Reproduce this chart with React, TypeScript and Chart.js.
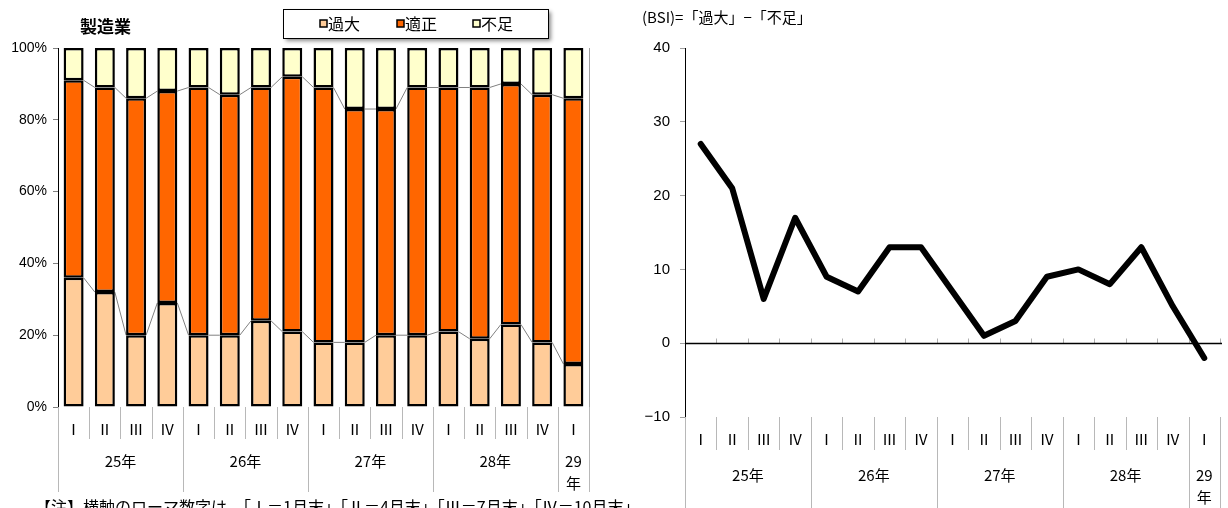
import React, { useEffect, useRef } from "react";
import { Chart, registerables } from "chart.js";
Chart.register(...registerables);

// ---- data ----
const quarterLabels = ["Ⅰ", "Ⅱ", "Ⅲ", "Ⅳ", "Ⅰ", "Ⅱ", "Ⅲ", "Ⅳ", "Ⅰ", "Ⅱ", "Ⅲ", "Ⅳ", "Ⅰ", "Ⅱ", "Ⅲ", "Ⅳ", "Ⅰ"];
const yearLabels = ["25年", "26年", "27年", "28年", "29年"];
const yearSpans = [4, 4, 4, 4, 1];
const kadai = [36, 32, 20, 29, 20, 20, 24, 21, 18, 18, 20, 20, 21, 19, 23, 18, 12];
const tekisei = [55, 57, 66, 59, 69, 67, 65, 71, 71, 65, 63, 69, 68, 70, 67, 69, 74];
const fusoku = [9, 11, 14, 12, 11, 13, 11, 8, 11, 17, 17, 11, 11, 11, 10, 13, 14];
const bsi = [27, 21, 6, 17, 9, 7, 13, 13, 7, 1, 3, 9, 10, 8, 13, 5, -2];
const seriesNames = ["過大", "適正", "不足"];
const seriesColors = ["#FFCC99", "#FF6600", "#FFFFCC"];
const leftTitle = "製造業";
const rightTitle = "(BSI)=「過大」−「不足」";
const noteText = "【注】横軸のローマ数字は、「Ⅰ＝1月末」「Ⅱ＝4月末」「Ⅲ＝7月末」「Ⅳ＝10月末」";

const CJK = '"Noto Sans CJK JP", sans-serif';
const NUM = '"Liberation Sans", Arial, sans-serif';

function drawCategoryAxis(chart: any, opts: { top: number; quarterY: number; shortEnd: number; longEnd: number; yearY: number; yearY2: number }) {
  const ctx = chart.ctx as CanvasRenderingContext2D;
  const xs = chart.scales.x;
  const n = quarterLabels.length;
  const catW = (xs.right - xs.left) / n;
  ctx.save();
  ctx.strokeStyle = "#b8b8b8";
  ctx.lineWidth = 1;
  const bounds: number[] = [0];
  let acc = 0;
  yearSpans.forEach((s) => { acc += s; bounds.push(acc); });
  for (let i = 0; i <= n; i++) {
    const x = Math.round(xs.left + i * catW) + 0.5;
    const isLong = bounds.indexOf(i) >= 0;
    ctx.beginPath();
    ctx.moveTo(x, opts.top);
    ctx.lineTo(x, isLong ? opts.longEnd : opts.shortEnd);
    ctx.stroke();
  }
  ctx.fillStyle = "#000";
  ctx.textAlign = "center";
  ctx.textBaseline = "middle";
  ctx.font = `15px ${CJK}`;
  for (let i = 0; i < n; i++) {
    const cx = xs.getPixelForValue(i);
    ctx.fillText(quarterLabels[i], cx, opts.quarterY);
  }
  let start = 0;
  yearSpans.forEach((s, k) => {
    const cx = xs.left + (start + s / 2) * catW;
    const label = yearLabels[k];
    if (s === 1) {
      ctx.fillText(label.slice(0, 2), cx, opts.yearY);
      ctx.fillText(label.slice(2), cx, opts.yearY2);
    } else {
      ctx.fillText(label, cx, opts.yearY);
    }
    start += s;
  });
  ctx.restore();
}

const leftPlugin = {
  id: "leftDecor",
  beforeDatasetsDraw(chart: any) {
    const ctx = chart.ctx as CanvasRenderingContext2D;
    const { right, top, bottom } = chart.chartArea;
    ctx.save();
    ctx.strokeStyle = "#a0a0a0";
    ctx.lineWidth = 1;
    ctx.beginPath();
    ctx.moveTo(Math.round(right) + 0.5, top);
    ctx.lineTo(Math.round(right) + 0.5, bottom);
    ctx.stroke();
    // series lines
    ctx.strokeStyle = "#808080";
    for (let d = 0; d < 2; d++) {
      const meta = chart.getDatasetMeta(d);
      for (let i = 0; i < meta.data.length - 1; i++) {
        const a = meta.data[i] as any;
        const b = meta.data[i + 1] as any;
        ctx.beginPath();
        ctx.moveTo(a.x + a.width / 2, a.y);
        ctx.lineTo(b.x - b.width / 2, b.y);
        ctx.stroke();
      }
    }
    ctx.restore();
  },
  afterDraw(chart: any) {
    const ctx = chart.ctx as CanvasRenderingContext2D;
    const { bottom } = chart.chartArea;
    drawCategoryAxis(chart, { top: bottom, quarterY: 429, shortEnd: 439, longEnd: 492, yearY: 461, yearY2: 483 });
    ctx.save();
    // title
    ctx.fillStyle = "#000";
    ctx.font = `bold 17px ${CJK}`;
    ctx.textAlign = "left";
    ctx.textBaseline = "middle";
    ctx.fillText(leftTitle, 80, 27);
    // legend box
    ctx.save();
    ctx.shadowColor = "rgba(0,0,0,0.45)";
    ctx.shadowBlur = 4;
    ctx.shadowOffsetX = 3;
    ctx.shadowOffsetY = 3;
    ctx.fillStyle = "#fff";
    ctx.fillRect(283, 9, 265, 29);
    ctx.restore();
    ctx.strokeStyle = "#000";
    ctx.lineWidth = 1;
    ctx.strokeRect(283.5, 9.5, 265, 29);
    const itemX = [320, 397, 473];
    ctx.font = `16px ${CJK}`;
    seriesNames.forEach((name, k) => {
      ctx.fillStyle = seriesColors[k];
      ctx.fillRect(itemX[k], 20, 7, 7);
      ctx.strokeStyle = "#000";
      ctx.lineWidth = 1.5;
      ctx.strokeRect(itemX[k], 20, 7, 7);
      ctx.fillStyle = "#000";
      ctx.fillText(name, itemX[k] + 8, 24);
    });
    // note
    ctx.font = `16px ${CJK}`;
    ctx.textBaseline = "top";
    ctx.fillText(noteText, 35, 499);
    ctx.restore();
  },
};

const rightPlugin = {
  id: "rightDecor",
  beforeDatasetsDraw(chart: any) {
    const ctx = chart.ctx as CanvasRenderingContext2D;
    const { left, right } = chart.chartArea;
    const xs = chart.scales.x;
    const y0 = Math.round(chart.scales.y.getPixelForValue(0)) + 0.5;
    const n = quarterLabels.length;
    const catW = (xs.right - xs.left) / n;
    ctx.save();
    ctx.strokeStyle = "#b0b0b0";
    ctx.lineWidth = 1;
    for (let i = 1; i <= n; i++) {
      const x = Math.round(xs.left + i * catW) + 0.5;
      ctx.beginPath();
      ctx.moveTo(x, y0 - 5);
      ctx.lineTo(x, y0);
      ctx.stroke();
    }
    ctx.strokeStyle = "#000";
    ctx.lineWidth = 1.5;
    ctx.beginPath();
    ctx.moveTo(left, y0);
    ctx.lineTo(right + 2, y0);
    ctx.stroke();
    ctx.restore();
  },
  afterDraw(chart: any) {
    const ctx = chart.ctx as CanvasRenderingContext2D;
    const { bottom } = chart.chartArea;
    drawCategoryAxis(chart, { top: bottom, quarterY: 439, shortEnd: 450, longEnd: 510, yearY: 475, yearY2: 497 });
    ctx.save();
    ctx.fillStyle = "#000";
    ctx.font = `15px ${CJK}`;
    ctx.textAlign = "left";
    ctx.textBaseline = "middle";
    ctx.fillText(rightTitle, 32, 17);
    ctx.restore();
  },
};

export default function App() {
  const leftRef = useRef<HTMLCanvasElement>(null);
  const rightRef = useRef<HTMLCanvasElement>(null);

  useEffect(() => {
    const left = new Chart(leftRef.current!, {
      type: "bar",
      data: {
        labels: quarterLabels,
        datasets: [kadai, tekisei, fusoku].map((d, k) => ({
          label: seriesNames[k],
          data: d,
          backgroundColor: seriesColors[k],
          borderColor: "#000",
          borderWidth: 2.5,
          borderSkipped: false,
          barPercentage: 0.64,
          categoryPercentage: 1,
        })),
      },
      options: {
        responsive: false,
        animation: false,
        layout: { padding: { top: 48, right: 91, bottom: 0, left: 0 } },
        plugins: { legend: { display: false }, title: { display: false }, tooltip: { enabled: false } },
        scales: {
          x: {
            stacked: true,
            ticks: { display: false },
            grid: { display: false },
            border: { display: false },
            afterFit: (s: any) => { s.height = 101; },
          },
          y: {
            stacked: true,
            min: 0,
            max: 100,
            ticks: { stepSize: 20, callback: (v: any) => v + "%", color: "#000", font: { size: 14, family: NUM }, padding: 6 },
            grid: { drawOnChartArea: false, drawTicks: true, tickLength: 5, color: "#808080" },
            border: { display: true, color: "#000", width: 1 },
            afterFit: (s: any) => { s.width = 58; },
          },
        },
      },
      plugins: [leftPlugin],
    } as any);

    const right = new Chart(rightRef.current!, {
      type: "line",
      data: {
        labels: quarterLabels,
        datasets: [
          {
            label: "BSI",
            data: bsi,
            borderColor: "#000",
            borderWidth: 6,
            pointRadius: 0,
            borderJoinStyle: "round",
            borderCapStyle: "round",
            tension: 0,
            fill: false,
          },
        ],
      },
      options: {
        responsive: false,
        animation: false,
        layout: { padding: { top: 48, right: 8, bottom: 0, left: 0 } },
        plugins: { legend: { display: false }, title: { display: false }, tooltip: { enabled: false } },
        scales: {
          x: {
            offset: true,
            ticks: { display: false },
            grid: { display: false },
            border: { display: false },
            afterFit: (s: any) => { s.height = 91; },
          },
          y: {
            min: -10,
            max: 40,
            ticks: {
              stepSize: 10,
              color: "#000",
              font: { size: 15, family: NUM },
              padding: 10,
              callback: (v: any) => String(v).replace("-", "−"),
            },
            grid: { drawOnChartArea: false, drawTicks: true, tickLength: 5, color: "#a0a0a0" },
            border: { display: true, color: "#000", width: 1 },
            afterFit: (s: any) => { s.width = 75; },
          },
        },
      },
      plugins: [rightPlugin],
    } as any);

    return () => {
      left.destroy();
      right.destroy();
    };
  }, []);

  return (
    <div style={{ position: "absolute", left: 0, top: 0, width: 1228, height: 508, background: "#fff", overflow: "hidden" }}>
      <canvas ref={leftRef} width={680} height={508} style={{ position: "absolute", left: 0, top: 0 }} />
      <canvas ref={rightRef} width={618} height={508} style={{ position: "absolute", left: 610, top: 0 }} />
    </div>
  );
}
